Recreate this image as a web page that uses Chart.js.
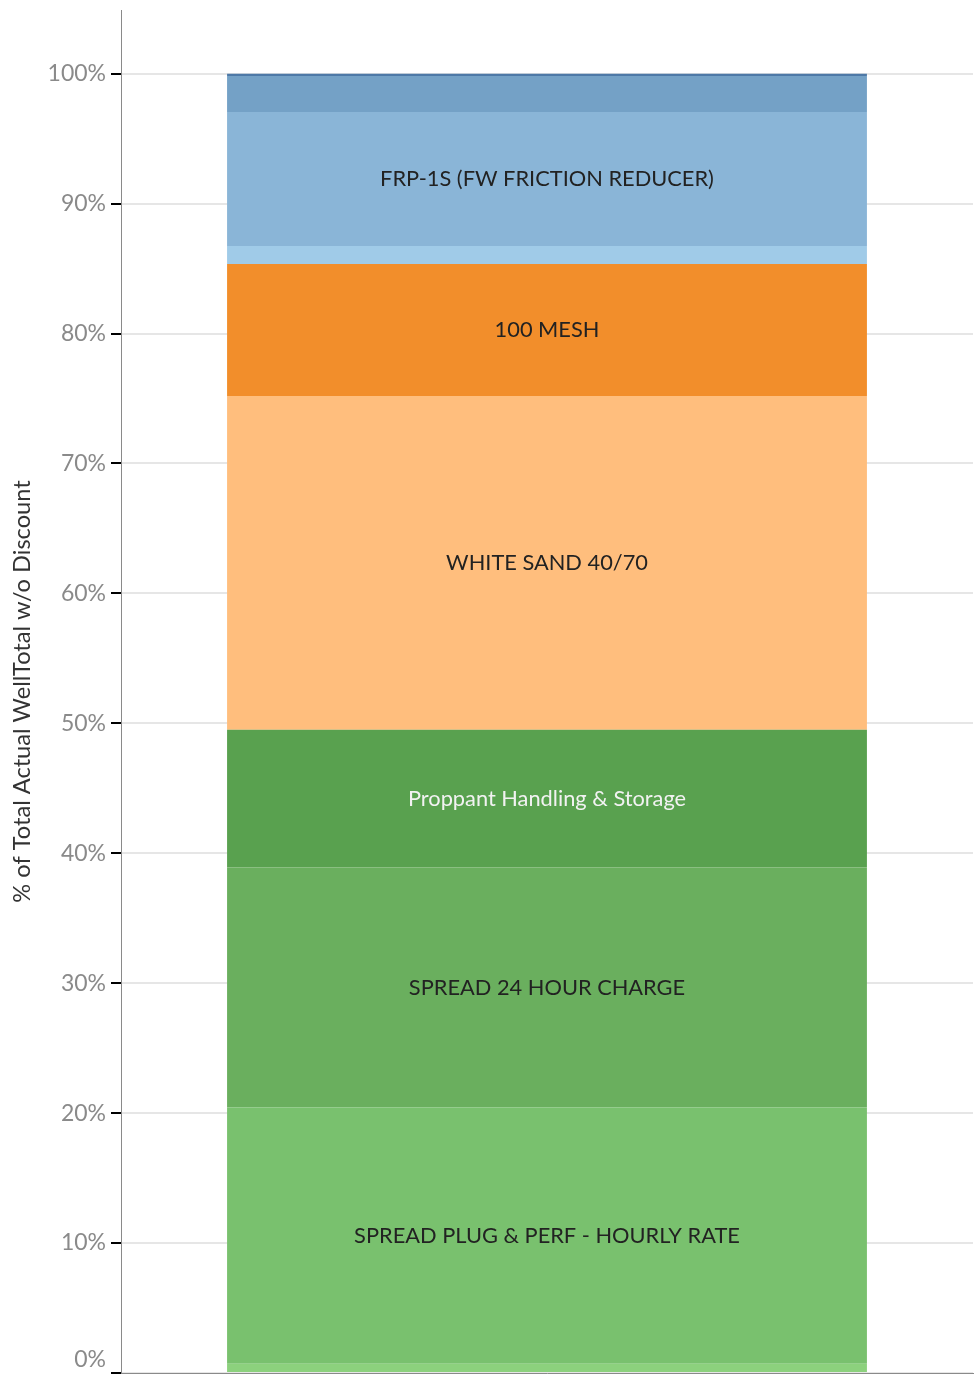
<!DOCTYPE html>
<html>
<head>
<meta charset="utf-8">
<script src="https://cdn.jsdelivr.net/npm/chart.js@4.4.1/dist/chart.umd.min.js"></script>
<style>
  html, body { margin: 0; padding: 0; background: #ffffff; }
  #wrap { width: 977px; height: 1378px; position: relative; }
</style>
</head>
<body>
<div id="wrap"><canvas id="c" width="977" height="1378"></canvas></div>
<script>
// Segment names, bottom to top ('' = segment too small to be labelled)
const segmentNames = [
  '',
  'SPREAD PLUG & PERF - HOURLY RATE',
  'SPREAD 24 HOUR CHARGE',
  'Proppant Handling & Storage',
  'WHITE SAND 40/70',
  '100 MESH',
  '',
  'FRP-1S (FW FRICTION REDUCER)',
  '',
  ''
];
// Share of total (%) for each segment, bottom to top
const segmentShares = [0.72, 19.72, 18.46, 10.60, 25.70, 10.16, 1.38, 10.31, 2.77, 0.18];
const segmentColors = ['#8cd17d', '#79c16e', '#6aaf5e', '#59a14f', '#ffbe7d', '#f28e2b', '#a0cbe8', '#8ab5d7', '#74a1c6', '#4e79a7'];
const labelColors = ['#222', '#222', '#222', '#f2f2f2', '#222', '#222', '#222', '#222', '#222', '#222'];
const categories = [''];
const yTicks = [0, 10, 20, 30, 40, 50, 60, 70, 80, 90, 100];

const FONT = 'Lato, "Open Sans", sans-serif';

const segmentLabelPlugin = {
  id: 'segmentLabels',
  afterDatasetsDraw(chart) {
    const ctx = chart.ctx;
    ctx.save();
    ctx.textAlign = 'center';
    ctx.textBaseline = 'middle';
    ctx.font = '21.8px ' + FONT;
    chart.data.datasets.forEach((ds, i) => {
      if (!ds.label) return;
      const meta = chart.getDatasetMeta(i);
      const bar = meta.data[0];
      if (!bar) return;
      const cy = (bar.y + bar.base) / 2;
      ctx.fillStyle = labelColors[i];
      ctx.fillText(ds.label, bar.x, cy);
    });
    ctx.restore();
  }
};

new Chart(document.getElementById('c'), {
  type: 'bar',
  data: {
    labels: categories,
    datasets: segmentShares.map((v, i) => ({
      label: segmentNames[i],
      data: [v],
      backgroundColor: segmentColors[i],
      borderWidth: 0,
      barPercentage: 0.751,
      categoryPercentage: 1.0
    }))
  },
  options: {
    responsive: false,
    animation: false,
    devicePixelRatio: 1,
    layout: { padding: { top: 10, right: 4, bottom: 5, left: 0 } },
    plugins: { legend: { display: false }, tooltip: { enabled: false } },
    scales: {
      x: {
        stacked: true,
        z: 1,
        ticks: { display: false },
        grid: { display: false, drawTicks: false },
        border: { display: true, color: '#8a8a8a', width: 1 },
        afterFit(scale) {
          scale.height = 0;
          scale.paddingLeft = 0; scale.paddingRight = 0;
          scale.paddingTop = 0; scale.paddingBottom = 0;
        }
      },
      y: {
        stacked: true,
        min: 0,
        max: 104.9,
        afterBuildTicks(scale) { scale.ticks = yTicks.map(v => ({ value: v })); },
        afterFit(scale) {
          scale.width = 121;
          scale.paddingTop = 0; scale.paddingBottom = 0;
        },
        ticks: {
          color: '#8a8a8a',
          font: { family: FONT, size: 23 },
          padding: 5,
          callback: (v) => v === 0 ? ['0%', ''] : v + '%'
        },
        grid: {
          color: '#e6e6e6',
          lineWidth: 2,
          drawTicks: true,
          tickLength: 10,
          tickColor: '#000',
          tickWidth: 2
        },
        border: { display: true, color: '#8a8a8a', width: 1 },
        title: {
          display: true,
          text: '% of Total Actual WellTotal w/o Discount',
          color: '#333',
          font: { family: FONT, size: 23.6 },
          padding: { top: 8, bottom: 0 }
        }
      }
    }
  },
  plugins: [segmentLabelPlugin]
});
</script>
</body>
</html>
